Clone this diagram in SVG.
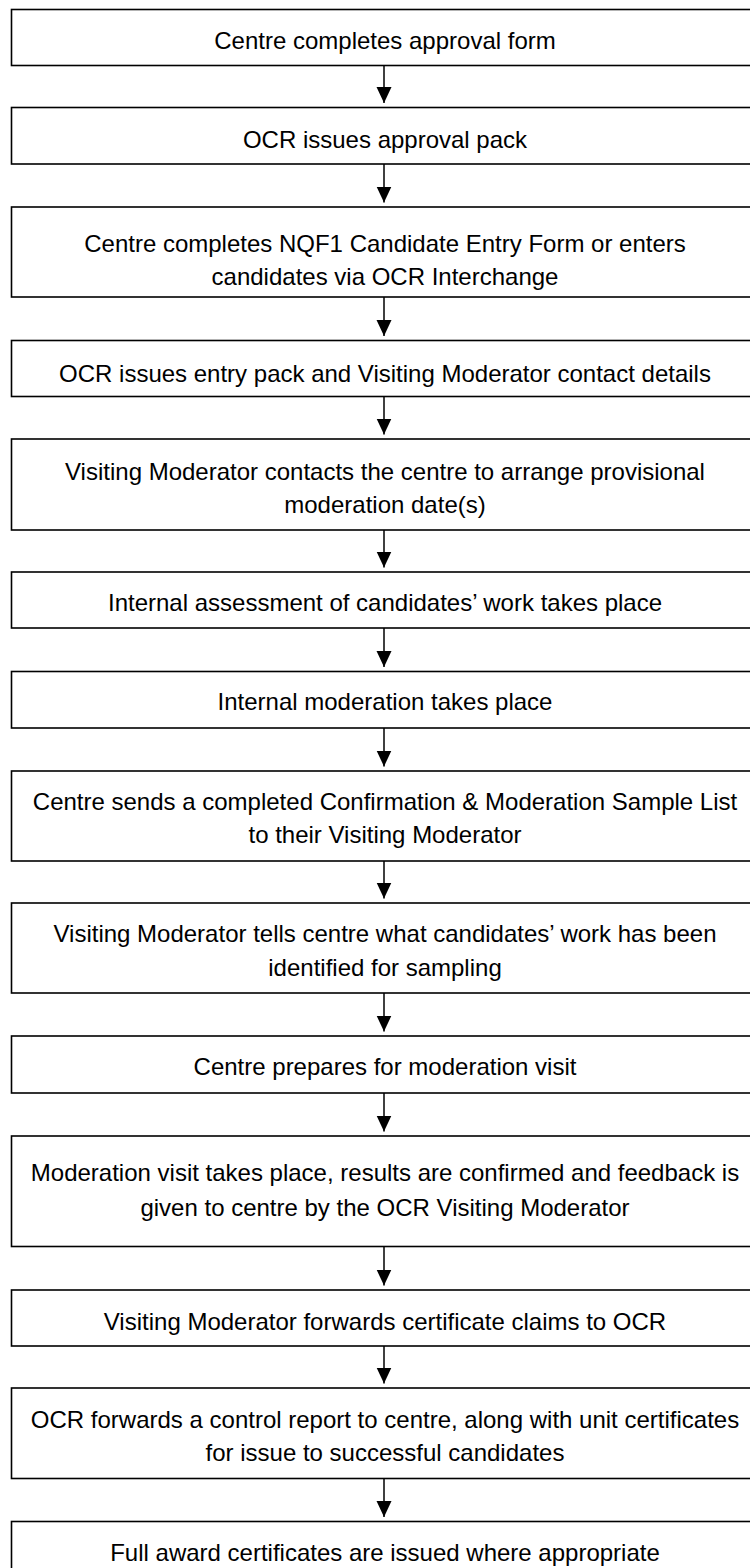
<svg xmlns="http://www.w3.org/2000/svg" width="750" height="1568" viewBox="0 0 750 1568">
<style>
.box{fill:#fff;stroke:#000;stroke-width:1.6}
.t{font-family:"Liberation Sans",Arial,sans-serif;font-size:24px;fill:#000;text-anchor:middle}
.c{stroke:#000;stroke-width:1.5;fill:none;marker-end:url(#ah)}
</style>
<defs>
<marker id="ah" markerUnits="userSpaceOnUse" markerWidth="16" markerHeight="16" viewBox="0 0 16 16" refX="16" refY="8" orient="auto">
<path d="M0,0.5 L16,8 L0,15.5 z" fill="#000"/>
</marker>
</defs>
<rect width="750" height="1568" fill="#fff"/>
<g id="connectors">
<line class="c" x1="384" y1="65.5" x2="384" y2="103"/>
<line class="c" x1="384" y1="164" x2="384" y2="202.5"/>
<line class="c" x1="384" y1="297" x2="384" y2="336"/>
<line class="c" x1="384" y1="396.5" x2="384" y2="434.5"/>
<line class="c" x1="384" y1="530" x2="384" y2="567.5"/>
<line class="c" x1="384" y1="628" x2="384" y2="667"/>
<line class="c" x1="384" y1="728" x2="384" y2="766.5"/>
<line class="c" x1="384" y1="861" x2="384" y2="898.5"/>
<line class="c" x1="384" y1="993" x2="384" y2="1031.5"/>
<line class="c" x1="384" y1="1093" x2="384" y2="1131.5"/>
<line class="c" x1="384" y1="1246.5" x2="384" y2="1285.5"/>
<line class="c" x1="384" y1="1346" x2="384" y2="1383.5"/>
<line class="c" x1="384" y1="1478.5" x2="384" y2="1517"/>
</g>
<g id="n1"><rect class="box" x="11.5" y="9.5" width="748" height="56"/><text class="t" x="385" y="49">Centre completes approval form</text></g>
<g id="n2"><rect class="box" x="11.5" y="107.5" width="748" height="56.5"/><text class="t" x="385" y="147.5">OCR issues approval pack</text></g>
<g id="n3"><rect class="box" x="11.5" y="207" width="748" height="90"/><text class="t" x="385" y="252">Centre completes NQF1 Candidate Entry Form or enters</text><text class="t" x="385" y="285">candidates via OCR Interchange</text></g>
<g id="n4"><rect class="box" x="11.5" y="340.5" width="748" height="56"/><text class="t" x="385" y="382">OCR issues entry pack and Visiting Moderator contact details</text></g>
<g id="n5"><rect class="box" x="11.5" y="439" width="748" height="91"/><text class="t" x="385" y="480">Visiting Moderator contacts the centre to arrange provisional</text><text class="t" x="385" y="513">moderation date(s)</text></g>
<g id="n6"><rect class="box" x="11.5" y="572" width="748" height="56"/><text class="t" x="385" y="610.5">Internal assessment of candidates’ work takes place</text></g>
<g id="n7"><rect class="box" x="11.5" y="671.5" width="748" height="56.5"/><text class="t" x="385" y="710">Internal moderation takes place</text></g>
<g id="n8"><rect class="box" x="11.5" y="771" width="748" height="90"/><text class="t" x="385" y="810">Centre sends a completed Confirmation &amp; Moderation Sample List</text><text class="t" x="385" y="843">to their Visiting Moderator</text></g>
<g id="n9"><rect class="box" x="11.5" y="903" width="748" height="90"/><text class="t" x="385" y="941.5">Visiting Moderator tells centre what candidates’ work has been</text><text class="t" x="385" y="975.5">identified for sampling</text></g>
<g id="n10"><rect class="box" x="11.5" y="1036" width="748" height="57"/><text class="t" x="385" y="1075">Centre prepares for moderation visit</text></g>
<g id="n11"><rect class="box" x="11.5" y="1136" width="748" height="110.5"/><text class="t" x="385" y="1181">Moderation visit takes place, results are confirmed and feedback is</text><text class="t" x="385" y="1216">given to centre by the OCR Visiting Moderator</text></g>
<g id="n12"><rect class="box" x="11.5" y="1290" width="748" height="56"/><text class="t" x="385" y="1330">Visiting Moderator forwards certificate claims to OCR</text></g>
<g id="n13"><rect class="box" x="11.5" y="1388" width="748" height="90.5"/><text class="t" x="385" y="1428">OCR forwards a control report to centre, along with unit certificates</text><text class="t" x="385" y="1461">for issue to successful candidates</text></g>
<g id="n14"><rect class="box" x="11.5" y="1521.5" width="748" height="60"/><text class="t" x="385" y="1561">Full award certificates are issued where appropriate</text></g>
</svg>
